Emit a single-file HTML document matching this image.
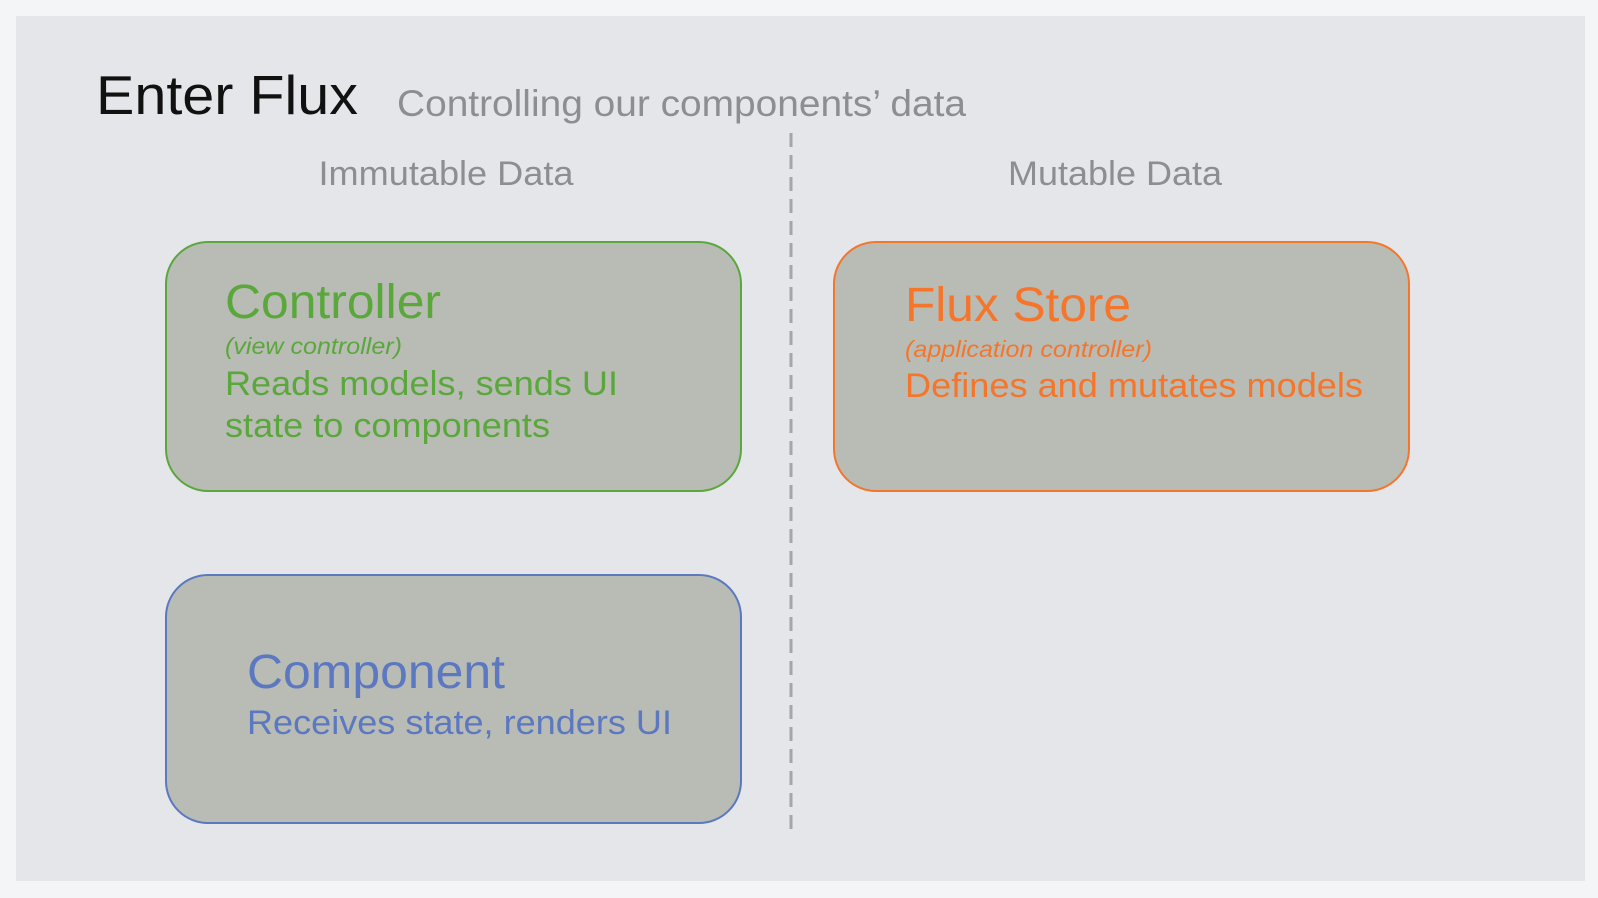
<!DOCTYPE html>
<html><head><meta charset="utf-8"><style>
html,body{margin:0;padding:0;background:#f3f4f5;}
svg{display:block;}
text{font-family:"Liberation Sans",Arial,sans-serif;}
</style></head><body>
<svg width="1598" height="898" viewBox="0 0 1598 898" xmlns="http://www.w3.org/2000/svg">
<rect x="0" y="0" width="1598" height="898" fill="#f4f5f6"/>
<rect x="16" y="16" width="1569" height="865" fill="#e4e6ea"/>
<text x="96" y="114" font-size="55" fill="#111" textLength="262" lengthAdjust="spacingAndGlyphs">Enter Flux</text>
<text x="397" y="116" font-size="37" fill="#8c8e91" textLength="569" lengthAdjust="spacingAndGlyphs">Controlling our components’ data</text>
<line x1="791" y1="133" x2="791" y2="836" stroke="#a4a6a8" stroke-width="3" stroke-dasharray="14 8"/>
<text x="446" y="185" font-size="34" fill="#8c8e91" text-anchor="middle" textLength="255" lengthAdjust="spacingAndGlyphs">Immutable Data</text>
<text x="1115" y="185" font-size="34" fill="#8c8e91" text-anchor="middle" textLength="214" lengthAdjust="spacingAndGlyphs">Mutable Data</text>
<rect x="166" y="242" width="575" height="249" rx="42" fill="#b9bbb5" stroke="#5aa83c" stroke-width="2"/>
<rect x="834" y="242" width="575" height="249" rx="42" fill="#b9bbb5" stroke="#f5762a" stroke-width="2"/>
<rect x="166" y="575" width="575" height="248" rx="42" fill="#b9bbb5" stroke="#5b78c0" stroke-width="2"/>
<text x="225" y="318" font-size="48" fill="#5aa83c" textLength="216" lengthAdjust="spacingAndGlyphs">Controller</text>
<text x="225" y="354" font-size="23" font-style="italic" fill="#5aa83c" textLength="177" lengthAdjust="spacingAndGlyphs">(view controller)</text>
<text x="225" y="395" font-size="34" fill="#5aa83c" textLength="393" lengthAdjust="spacingAndGlyphs">Reads models, sends UI</text>
<text x="225" y="437" font-size="34" fill="#5aa83c" textLength="325" lengthAdjust="spacingAndGlyphs">state to components</text>
<text x="905" y="321" font-size="48" fill="#f5762a" textLength="226" lengthAdjust="spacingAndGlyphs">Flux Store</text>
<text x="905" y="357" font-size="23" font-style="italic" fill="#f5762a" textLength="247" lengthAdjust="spacingAndGlyphs">(application controller)</text>
<text x="905" y="397" font-size="34" fill="#f5762a" textLength="458" lengthAdjust="spacingAndGlyphs">Defines and mutates models</text>
<text x="247" y="688" font-size="48" fill="#5b78c0" textLength="258" lengthAdjust="spacingAndGlyphs">Component</text>
<text x="247" y="734" font-size="34" fill="#5b78c0" textLength="425" lengthAdjust="spacingAndGlyphs">Receives state, renders UI</text>
</svg>
</body></html>
